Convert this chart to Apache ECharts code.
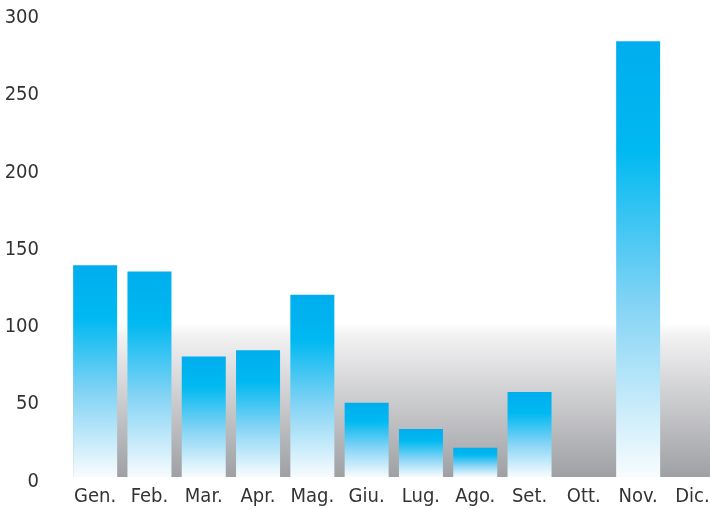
<!DOCTYPE html>
<html>
<head>
<meta charset="utf-8">
<script src="https://cdn.jsdelivr.net/npm/echarts@6/dist/echarts.min.js"></script>
<style>html,body{margin:0;padding:0;background:#fff;}#c{width:710px;height:509px;}</style>
</head>
<body>
<div id="c"></div>
<script>
const categories = ['Gen.', 'Feb.', 'Mar.', 'Apr.', 'Mag.', 'Giu.', 'Lug.', 'Ago.', 'Set.', 'Ott.', 'Nov.', 'Dic.'];
const values = [137, 133, 78, 82, 118, 48, 31, 19, 55, 0, 282, 0];
const yTicks = [0, 50, 100, 150, 200, 250, 300];
const bandTop = 100;

const FONT = '"DejaVu Sans Condensed", "Liberation Sans", sans-serif';
const chart = echarts.init(document.getElementById('c'), null, {renderer: 'canvas'});
chart.setOption({
  animation: false,
  backgroundColor: '#ffffff',
  grid: {left: 68, width: 651.6, top: 13.5, bottom: 32, containLabel: false, outerBoundsMode: 'none'},
  xAxis: {
    type: 'category',
    data: categories,
    axisLine: {show: false},
    axisTick: {show: false},
    splitLine: {show: false},
    axisLabel: {color: '#333333', fontSize: 20, fontFamily: FONT, margin: 10, interval: 0}
  },
  yAxis: {
    type: 'value',
    min: yTicks[0],
    max: yTicks[yTicks.length - 1],
    interval: yTicks[1] - yTicks[0],
    axisLine: {show: false},
    axisTick: {show: false},
    splitLine: {show: false},
    axisLabel: {color: '#333333', fontSize: 20, fontFamily: FONT, margin: 29, verticalAlign: 'top', lineHeight: 9}
  },
  series: [{
    type: 'bar',
    data: values,
    barWidth: 44,
    itemStyle: {
      color: {
        type: 'linear', x: 0, y: 0, x2: 0, y2: 1,
        colorStops: [
          {offset: 0, color: '#00adee'},
          {offset: 0.25, color: '#00b9f1'},
          {offset: 0.6, color: '#82d3f5'},
          {offset: 1, color: '#f8fcfe'}
        ]
      }
    },
    markArea: {
      silent: true,
      z: 1,
      itemStyle: {
        color: {
          type: 'linear', x: 0, y: 0, x2: 0, y2: 1,
          colorStops: [
            {offset: 0, color: '#ffffff'},
            {offset: 0.08, color: '#f2f2f3'},
            {offset: 1, color: '#9fa0a4'}
          ]
        }
      },
      data: [[{x: 73, yAxis: bandTop}, {x: 710, yAxis: 0}]]
    }
  }]
});
</script>
</body>
</html>
